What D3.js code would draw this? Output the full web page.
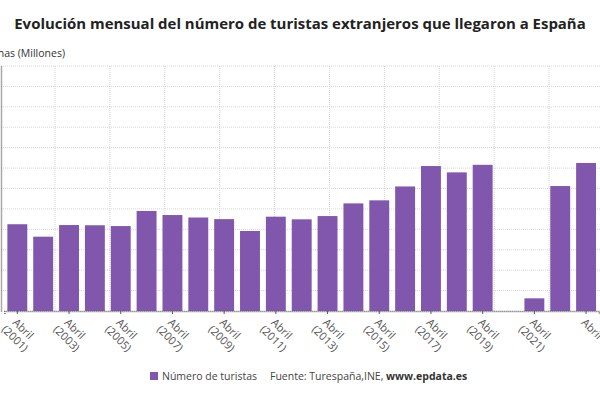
<!DOCTYPE html>
<html>
<head>
<meta charset="utf-8">
<script src="https://cdn.jsdelivr.net/npm/d3@7"></script>
<style>
  body { margin: 0; background: #fff; }
  svg { font-family: "Open Sans", "Noto Sans", sans-serif; }
</style>
</head>
<body>
<div class="canvas"></div>
<script>
// April of each year, foreign tourists (millions)
const years = d3.range(2001, 2024)
const tourists = [4.25, 3.64, 4.21, 4.2, 4.16, 4.9, 4.7, 4.58, 4.5, 3.92, 4.62, 4.49,
  4.65, 5.27, 5.42, 6.1, 7.1, 6.79, 7.16, 0, 0.62, 6.12, 7.25]
const yTicks = d3.range(0, 13)
const labelYears = years.filter((d, i) => i % 2 === 0)
// the last label shows only its first line in the cropped view
const labelSub = labelYears.map((d, i) => i < labelYears.length - 1 ? `(${d})` : '')

const width = 600
const height = 400
const plotTop = 66
const plotBottom = 311
const plotLeft = 1
const plotRight = 604

const svg = d3.select('.canvas').append('svg')
    .attr('width', width)
    .attr('height', height)

const x = d3.scaleBand()
    .domain(years)
    .range([4.4, 599])
    .paddingInner(0.23)
    .paddingOuter(0.115)

const y = d3.scaleLinear()
    .domain([0, 12])
    .range([plotBottom, plotTop])

// background grid
const gx = d3.scaleLinear().domain([0, 11]).range([plotLeft - 1, plotRight])
svg.append('g')
    .selectAll('line')
    .data(d3.range(1, 12))
    .join('line')
    .attr('x1', d => gx(d))
    .attr('x2', d => gx(d))
    .attr('y1', plotTop)
    .attr('y2', plotBottom)
    .attr('stroke', '#d6d6d6')
    .attr('stroke-dasharray', '1,1')

svg.append('g')
    .selectAll('line')
    .data(yTicks.slice(1))
    .join('line')
    .attr('x1', plotLeft)
    .attr('x2', width)
    .attr('y1', d => y(d))
    .attr('y2', d => y(d))
    .attr('stroke', '#d6d6d6')
    .attr('stroke-dasharray', '1,1')

// bars
svg.append('g')
    .selectAll('rect')
    .data(tourists)
    .join('rect')
    .attr('x', (d, i) => x(years[i]))
    .attr('width', x.bandwidth())
    .attr('y', d => y(d))
    .attr('height', d => y(0) - y(d))
    .attr('fill', '#8157ad')

// y axis: its labels sit outside the cropped view, so only the line is drawn
const yAxis = svg.append('g')
    .attr('transform', `translate(${plotLeft},0)`)
    .call(d3.axisLeft(y).tickValues(yTicks).tickSize(0).tickFormat(''))
yAxis.select('.domain').attr('stroke', '#555').attr('stroke-dasharray', '1,1').attr('stroke-width', 1.5)

// x axis
const xAxis = svg.append('g')
    .attr('transform', `translate(0,${plotBottom})`)
    .call(d3.axisBottom(x).tickValues(labelYears).tickSize(3).tickFormat(''))
xAxis.select('.domain').attr('stroke', '#555').attr('stroke-dasharray', '1,1').attr('stroke-width', 1.5)
xAxis.selectAll('.tick line').attr('stroke', '#555')

const labels = svg.append('g')
    .selectAll('text')
    .data(labelYears)
    .join('text')
    .attr('transform', d => `translate(${x(d) + x.bandwidth() / 2 + 1},${plotBottom + 6}) rotate(45)`)
    .attr('font-size', 11)
    .attr('fill', '#555')
labels.append('tspan').attr('x', 0).attr('dy', '0.8em').text('Abril')
labels.append('tspan').attr('x', -3).attr('dy', '1.15em').text((d, i) => labelSub[i])

// title, fitted to the reference width
const title = svg.append('text')
    .attr('x', 300)
    .attr('y', 29)
    .attr('text-anchor', 'middle')
    .attr('font-size', 17)
    .attr('font-weight', 'bold')
    .attr('fill', '#222')
    .text('Evolución mensual del número de turistas extranjeros que llegaron a España')
const tw = title.node().getComputedTextLength()
title.attr('font-size', 17 * 572 / tw)

svg.append('text')
    .attr('x', 65)
    .attr('y', 57)
    .attr('text-anchor', 'end')
    .attr('font-size', 10.5)
    .attr('fill', '#333')
    .text('Personas (Millones)')

// legend and source
const legend = svg.append('g')
legend.append('rect')
    .attr('x', 150)
    .attr('y', 372)
    .attr('width', 8)
    .attr('height', 8)
    .attr('fill', '#8157ad')
legend.append('text')
    .attr('x', 162)
    .attr('y', 380)
    .attr('font-size', 10.5)
    .attr('fill', '#444')
    .text('Número de turistas')

const source = legend.append('text')
    .attr('x', 270)
    .attr('y', 380)
    .attr('font-size', 10.5)
    .attr('fill', '#444')
source.append('tspan').text('Fuente: Turespaña,INE, ')
source.append('tspan').attr('font-weight', 'bold').attr('fill', '#333').text('www.epdata.es')
</script>
</body>
</html>
